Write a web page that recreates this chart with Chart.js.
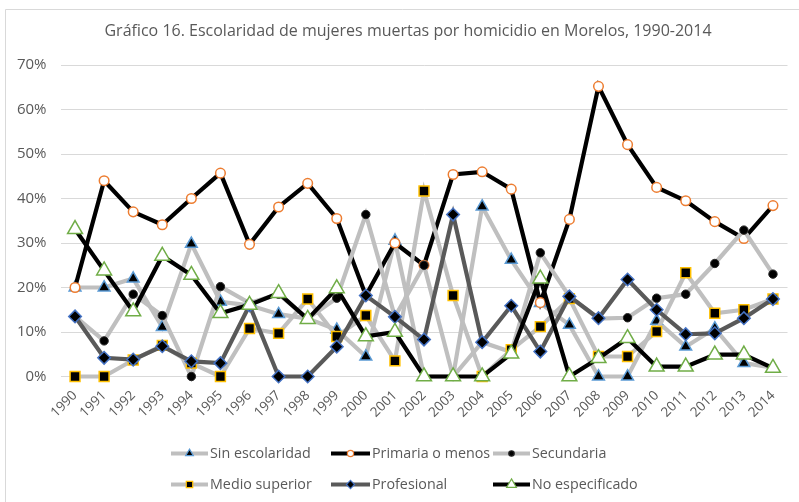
<!DOCTYPE html>
<html><head><meta charset="utf-8">
<script src="https://cdn.jsdelivr.net/npm/chart.js@4.4.0/dist/chart.umd.min.js"></script>
<style>html,body{margin:0;padding:0;background:#fff;} canvas{display:block;}</style>
</head><body>
<canvas id="c" width="799" height="502"></canvas>
<script>
const years = ['1990','1991','1992','1993','1994','1995','1996','1997','1998','1999','2000','2001','2002','2003','2004','2005','2006','2007','2008','2009','2010','2011','2012','2013','2014'];
const yTicks = [0,10,20,30,40,50,60,70];
const sinEscolaridad = [20.0,20.0,22.0,11.1,29.8,16.8,16.0,14.0,13.0,10.5,4.5,30.5,0,0,38.2,26.2,16.5,11.6,0,0,12.5,6.7,10.8,3.0,2.0];
const primaria = [20.0,44.0,37.0,34.1,40.0,45.7,29.7,38.1,43.4,35.5,18.2,30.0,25.0,45.4,46.0,42.1,16.6,35.3,65.2,52.1,42.5,39.5,34.8,31.0,38.4];
const secundaria = [13.5,8.0,18.5,13.7,0,20.2,16.5,18.5,13.0,17.6,36.4,13.4,25.0,0,7.7,5.5,27.8,18.0,13.0,13.2,17.6,18.5,25.4,32.9,23.0];
const medioSuperior = [0,0,3.7,7.0,3.0,0,10.8,9.7,17.4,9.0,13.7,3.5,41.7,18.2,0,6.0,11.2,17.5,4.5,4.5,10.1,23.3,14.2,15.0,17.4];
const profesional = [13.5,4.2,3.8,6.8,3.4,3.0,16.0,0,0,6.7,18.2,13.4,8.3,36.4,7.7,15.9,5.6,18.0,13.1,21.8,15.0,9.5,9.7,13.1,17.4];
const noEspecificado = [33.1,23.8,14.6,27.1,22.8,14.2,16.1,18.7,12.9,19.8,9.0,10.0,0,0,0,5.1,22.0,0,4.1,8.6,2.2,2.2,4.9,4.9,1.9];
const seriesNames = ['Sin escolaridad','Primaria o menos','Secundaria','Medio superior','Profesional','No especificado'];
const title = 'Gráfico 16. Escolaridad de mujeres muertas por homicidio en Morelos, 1990-2014';

const FONT = '"Open Sans", "Liberation Sans", sans-serif';
const styles = [
  {line:'#bfbfbf', ps:'triangle', r:6.8, fill:'#000000', stroke:'#5b9bd5', bw:1.5},
  {line:'#000000', ps:'circle', r:4.8, fill:'#ffffff', stroke:'#ed7d31', bw:1.5},
  {line:'#bfbfbf', ps:'circle', r:4.2, fill:'#000000', stroke:'#262626', bw:1},
  {line:'#bfbfbf', ps:'rect', r:7, fill:'#000000', stroke:'#ffc000', bw:1.5},
  {line:'#595959', ps:'rectRot', r:6.3, fill:'#000000', stroke:'#4472c4', bw:1.5},
  {line:'#000000', ps:'triangle', r:8.6, fill:'#ffffff', stroke:'#70ad47', bw:1.5}
];
const dataArrays = [sinEscolaridad, primaria, secundaria, medioSuperior, profesional, noEspecificado];

const datasets = dataArrays.map((d,i)=>({
  label: seriesNames[i], data: d,
  borderColor: styles[i].line, borderWidth: 4.2,
  pointStyle: styles[i].ps, pointRadius: styles[i].r, pointHoverRadius: styles[i].r,
  pointBackgroundColor: styles[i].fill, pointBorderColor: styles[i].stroke, pointBorderWidth: styles[i].bw,
  tension: 0, order: 6 - i, clip: false
}));

function drawMarker(ctx, ps, x, y, r, fill, stroke, bw){
  ctx.save();
  ctx.beginPath();
  if(ps==='circle'){ ctx.arc(x,y,r,0,Math.PI*2); }
  else if(ps==='triangle'){
    let a=0; for(let k=0;k<3;k++){ const px=x+Math.sin(a)*r, py=y-Math.cos(a)*r; k?ctx.lineTo(px,py):ctx.moveTo(px,py); a+=2*Math.PI/3; } ctx.closePath();
  } else if(ps==='rect'){ const s=r/Math.SQRT2; ctx.rect(x-s,y-s,2*s,2*s); }
  else if(ps==='rectRot'){ ctx.moveTo(x,y-r); ctx.lineTo(x+r,y); ctx.lineTo(x,y+r); ctx.lineTo(x-r,y); ctx.closePath(); }
  ctx.fillStyle=fill; ctx.fill(); ctx.lineWidth=bw; ctx.strokeStyle=stroke; ctx.stroke();
  ctx.restore();
}

const legendPos = [
  {x1:171,x2:208,y:453.5},{x1:331,x2:370,y:453.5},{x1:493,x2:530,y:453.5},
  {x1:171,x2:208,y:484.5},{x1:331,x2:370,y:484.5},{x1:493,x2:530,y:484.5}
];

const decor = {
  id:'decor',
  beforeDraw(chart){
    const ctx=chart.ctx; ctx.save();
    ctx.fillStyle='#fff'; ctx.fillRect(0,0,chart.width,chart.height);
    ctx.strokeStyle='#d9d9d9'; ctx.lineWidth=1;
    ctx.beginPath(); ctx.moveTo(5.5,520); ctx.lineTo(5.5,9.5); ctx.lineTo(810,9.5); ctx.stroke();
    ctx.fillStyle='#595959'; ctx.font='16px '+FONT; ctx.textAlign='center'; ctx.textBaseline='middle';
    ctx.fillText(title, 408, 31);
    ctx.restore();
  },
  afterDraw(chart){
    const ctx=chart.ctx; ctx.save();
    legendPos.forEach((p,i)=>{
      const s=styles[i];
      ctx.strokeStyle=s.line; ctx.lineWidth=4; ctx.beginPath(); ctx.moveTo(p.x1,p.y); ctx.lineTo(p.x2,p.y); ctx.stroke();
      drawMarker(ctx, s.ps, (p.x1+p.x2)/2, p.y, s.r*0.65, s.fill, s.stroke, 1.2);
      ctx.fillStyle='#595959'; ctx.font='14.3px '+FONT; ctx.textAlign='left'; ctx.textBaseline='middle';
      ctx.fillText(seriesNames[i], p.x2+2, p.y);
    });
    ctx.restore();
  }
};

new Chart(document.getElementById('c'), {
  type:'line',
  data:{labels:years, datasets},
  options:{
    responsive:false, animation:false, devicePixelRatio:1,
    layout:{padding:{left:0,right:11.5,top:65,bottom:0}},
    plugins:{legend:{display:false}, title:{display:false}, tooltip:{enabled:false}},
    scales:{
      x:{offset:true, grid:{display:false}, border:{display:false},
         ticks:{minRotation:45,maxRotation:45,autoSkip:false,color:'#595959',font:{family:FONT,size:13.5},padding:3},
         afterFit(s){ s.height = 125.5; }},
      y:{min:0,max:70, grid:{color:'#d9d9d9',lineWidth:1,drawTicks:false}, border:{display:false},
         afterBuildTicks(s){ s.ticks = yTicks.map(v=>({value:v})); },
         ticks:{stepSize:10,color:'#595959',font:{family:FONT,size:15},padding:14,callback:v=>v+'%'},
         afterFit(s){ s.width = 60.5; }}
    }
  },
  plugins:[decor]
});
</script>
</body></html>
